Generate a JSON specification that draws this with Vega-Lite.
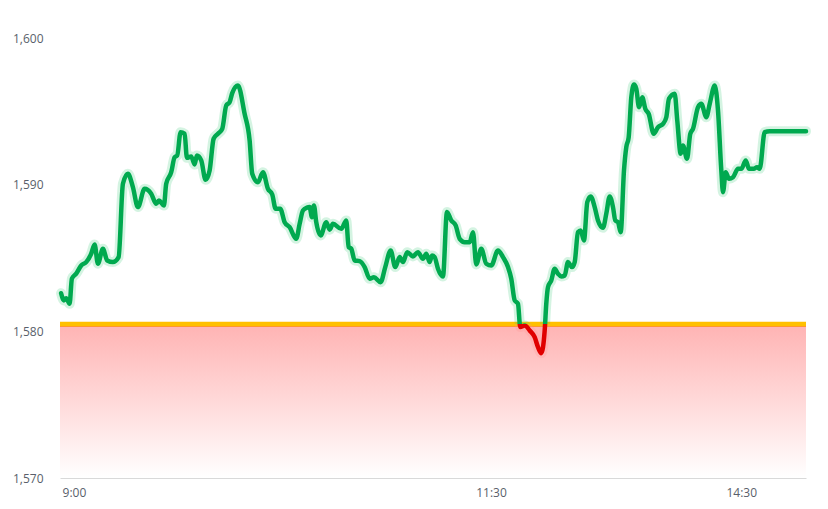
{
  "$schema": "https://vega.github.io/schema/vega-lite/v6.json",
  "width": 746,
  "height": 440,
  "autosize": {"type": "none"},
  "padding": {"left": 60, "top": 38, "right": 22, "bottom": 31},
  "background": "white",
  "config": {
    "view": {"stroke": null},
    "font": "Open Sans",
    "axis": {"labelFont": "Open Sans", "labelFontSize": 12, "labelColor": "#595F6B", "grid": false, "ticks": false, "title": null}
  },
  "datasets": {
    "prices": [
      {"t": -4.6, "price": 1582.60}, {"t": -3.6, "price": 1582.11}, {"t": -2.8, "price": 1582.26}, {"t": -1.55, "price": 1581.88},
      {"t": -0.72, "price": 1583.59}, {"t": 0.83, "price": 1583.93}, {"t": 2.63, "price": 1584.49}, {"t": 4.42, "price": 1584.72},
      {"t": 6.22, "price": 1585.29}, {"t": 7.45, "price": 1585.92}, {"t": 8.63, "price": 1584.61}, {"t": 10.43, "price": 1585.63},
      {"t": 11.98, "price": 1584.83}, {"t": 14.03, "price": 1584.72}, {"t": 16.08, "price": 1585.06}, {"t": 17.63, "price": 1590.06},
      {"t": 19.42, "price": 1590.74}, {"t": 21.22, "price": 1589.83}, {"t": 23.02, "price": 1588.47}, {"t": 25.43, "price": 1589.72},
      {"t": 27.81, "price": 1589.38}, {"t": 29.6, "price": 1588.70}, {"t": 30.58, "price": 1588.92}, {"t": 32.37, "price": 1588.58},
      {"t": 33.2, "price": 1590.06}, {"t": 35.0, "price": 1590.85}, {"t": 36.22, "price": 1591.87}, {"t": 37.16, "price": 1591.99},
      {"t": 38.38, "price": 1593.58}, {"t": 39.82, "price": 1593.47}, {"t": 40.65, "price": 1591.83}, {"t": 42.19, "price": 1591.92},
      {"t": 43.42, "price": 1591.38}, {"t": 44.24, "price": 1591.99}, {"t": 45.79, "price": 1591.65}, {"t": 47.37, "price": 1590.33},
      {"t": 48.81, "price": 1590.97}, {"t": 50.25, "price": 1593.13}, {"t": 51.8, "price": 1593.47}, {"t": 53.35, "price": 1593.81},
      {"t": 54.78, "price": 1595.40}, {"t": 56.0, "price": 1595.62}, {"t": 56.94, "price": 1596.24}, {"t": 59.0, "price": 1596.76},
      {"t": 61.4, "price": 1594.83}, {"t": 63.2, "price": 1593.01}, {"t": 64.14, "price": 1590.74}, {"t": 66.19, "price": 1590.17},
      {"t": 67.99, "price": 1590.85}, {"t": 69.78, "price": 1589.72}, {"t": 71.33, "price": 1589.33}, {"t": 72.55, "price": 1588.36},
      {"t": 74.21, "price": 1588.36}, {"t": 75.79, "price": 1587.44}, {"t": 77.59, "price": 1587.10}, {"t": 79.96, "price": 1586.31},
      {"t": 81.19, "price": 1587.33}, {"t": 82.37, "price": 1588.24}, {"t": 83.81, "price": 1588.43}, {"t": 84.78, "price": 1588.47},
      {"t": 85.61, "price": 1587.78}, {"t": 86.33, "price": 1588.58}, {"t": 87.16, "price": 1587.44}, {"t": 88.74, "price": 1586.54},
      {"t": 90.76, "price": 1587.44}, {"t": 91.98, "price": 1586.93}, {"t": 93.17, "price": 1587.33}, {"t": 96.15, "price": 1586.99},
      {"t": 97.95, "price": 1587.56}, {"t": 98.81, "price": 1585.74}, {"t": 99.75, "price": 1585.63}, {"t": 100.97, "price": 1584.83},
      {"t": 102.77, "price": 1584.79}, {"t": 104.57, "price": 1584.38}, {"t": 106.37, "price": 1583.59}, {"t": 107.91, "price": 1583.69},
      {"t": 110.32, "price": 1583.35}, {"t": 111.98, "price": 1584.38}, {"t": 113.92, "price": 1585.51}, {"t": 115.58, "price": 1584.38},
      {"t": 117.16, "price": 1585.06}, {"t": 118.35, "price": 1584.72}, {"t": 119.89, "price": 1585.40}, {"t": 121.94, "price": 1585.11},
      {"t": 123.74, "price": 1585.40}, {"t": 125.54, "price": 1584.95}, {"t": 126.73, "price": 1585.29}, {"t": 127.95, "price": 1584.72},
      {"t": 128.78, "price": 1585.17}, {"t": 129.75, "price": 1585.06}, {"t": 130.94, "price": 1584.27}, {"t": 132.73, "price": 1583.74},
      {"t": 134.17, "price": 1588.13}, {"t": 135.72, "price": 1587.56}, {"t": 137.3, "price": 1587.22}, {"t": 138.74, "price": 1586.31},
      {"t": 140.54, "price": 1586.08}, {"t": 142.34, "price": 1586.08}, {"t": 143.53, "price": 1586.76}, {"t": 144.71, "price": 1584.56},
      {"t": 146.51, "price": 1585.63}, {"t": 148.31, "price": 1584.61}, {"t": 150.11, "price": 1584.49}, {"t": 152.52, "price": 1585.51},
      {"t": 154.32, "price": 1585.06}, {"t": 156.12, "price": 1584.38}, {"t": 157.3, "price": 1583.59}, {"t": 158.53, "price": 1582.11},
      {"t": 159.71, "price": 1581.88}, {"t": 160.54, "price": 1580.29}, {"t": 162.12, "price": 1580.40}, {"t": 163.92, "price": 1580.06},
      {"t": 165.72, "price": 1579.60}, {"t": 166.91, "price": 1578.92}, {"t": 168.09, "price": 1578.51}, {"t": 169.32, "price": 1580.06},
      {"t": 169.89, "price": 1581.88}, {"t": 170.5, "price": 1583.01}, {"t": 171.69, "price": 1583.47}, {"t": 172.91, "price": 1584.27},
      {"t": 174.1, "price": 1583.93}, {"t": 175.29, "price": 1583.74}, {"t": 176.51, "price": 1583.81}, {"t": 177.7, "price": 1584.72},
      {"t": 179.14, "price": 1584.38}, {"t": 180.11, "price": 1584.72}, {"t": 181.29, "price": 1586.76}, {"t": 182.27, "price": 1586.88},
      {"t": 183.45, "price": 1586.20}, {"t": 184.64, "price": 1588.81}, {"t": 185.86, "price": 1589.20}, {"t": 187.3, "price": 1588.47},
      {"t": 188.49, "price": 1587.56}, {"t": 190.29, "price": 1587.06}, {"t": 191.47, "price": 1588.02}, {"t": 192.7, "price": 1589.20},
      {"t": 193.88, "price": 1588.47}, {"t": 194.71, "price": 1587.56}, {"t": 195.68, "price": 1587.44}, {"t": 196.65, "price": 1586.76},
      {"t": 197.84, "price": 1590.97}, {"t": 198.67, "price": 1592.56}, {"t": 199.53, "price": 1593.24}, {"t": 200.47, "price": 1595.96},
      {"t": 201.44, "price": 1596.83}, {"t": 202.27, "price": 1596.54}, {"t": 203.24, "price": 1595.28}, {"t": 204.42, "price": 1595.96},
      {"t": 205.5, "price": 1595.17}, {"t": 206.73, "price": 1594.83}, {"t": 208.53, "price": 1593.47}, {"t": 210.07, "price": 1593.92},
      {"t": 211.87, "price": 1594.15}, {"t": 213.06, "price": 1594.60}, {"t": 214.03, "price": 1595.86}, {"t": 216.08, "price": 1596.20},
      {"t": 217.0, "price": 1594.38}, {"t": 218.24, "price": 1592.11}, {"t": 219.06, "price": 1592.67}, {"t": 220.5, "price": 1591.77},
      {"t": 221.69, "price": 1593.47}, {"t": 222.66, "price": 1593.81}, {"t": 224.46, "price": 1595.28}, {"t": 225.65, "price": 1595.51},
      {"t": 227.45, "price": 1594.60}, {"t": 228.67, "price": 1595.51}, {"t": 230.47, "price": 1596.76}, {"t": 231.65, "price": 1595.06},
      {"t": 232.84, "price": 1590.97}, {"t": 233.45, "price": 1589.49}, {"t": 234.42, "price": 1590.85}, {"t": 235.61, "price": 1590.40},
      {"t": 237.05, "price": 1590.51}, {"t": 238.85, "price": 1591.08}, {"t": 240.04, "price": 1591.08}, {"t": 241.62, "price": 1591.65},
      {"t": 242.81, "price": 1591.08}, {"t": 244.5, "price": 1591.08}, {"t": 245.68, "price": 1591.19}, {"t": 246.65, "price": 1591.08},
      {"t": 248.45, "price": 1593.58}, {"t": 250.25, "price": 1593.65}, {"t": 263.3, "price": 1593.65}
    ],
    "reference": [{"prevClose": 1580.5}]
  },
  "layer": [
    {
      "data": {"name": "reference"},
      "mark": {"type": "rect", "fill": {"gradient": "linear", "x1": 0, "y1": 0, "x2": 0, "y2": 1, "stops": [{"offset": 0, "color": "#FFB3B3"}, {"offset": 1, "color": "#FFFFFF"}]}},
      "encoding": {
        "y": {"field": "prevClose", "type": "quantitative", "scale": {"domain": [1570, 1600], "nice": false, "zero": false},
              "axis": {"values": [1570, 1580, 1590, 1600], "format": ",", "domain": false, "labelPadding": 17}},
        "y2": {"datum": 1570}
      }
    },
    {
      "data": {"name": "reference"},
      "mark": {"type": "rule", "color": "#FF8A3D", "strokeWidth": 3, "yOffset": 1.5},
      "encoding": {"y": {"field": "prevClose", "type": "quantitative"}}
    },
    {
      "data": {"name": "reference"},
      "mark": {"type": "rule", "color": "#FFC000", "strokeWidth": 4.5},
      "encoding": {"y": {"field": "prevClose", "type": "quantitative"}}
    },
    {
      "data": {"name": "prices"},
      "mark": {"type": "line", "interpolate": "monotone", "strokeWidth": 10, "opacity": 0.22, "strokeCap": "round", "strokeJoin": "round",
               "stroke": {"gradient": "linear", "x1": 0, "y1": 0, "x2": 0, "y2": 1, "stops": [{"offset": 0, "color": "#3CCB7A"}, {"offset": 0.8914, "color": "#3CCB7A"}, {"offset": 0.8914, "color": "#FF9090"}, {"offset": 1, "color": "#FF9090"}]}},
      "encoding": {
        "x": {"field": "t", "type": "quantitative", "scale": {"domain": [-5, 263.3], "nice": false, "zero": false},
              "axis": {"values": [0, 150, 240], "labelExpr": "datum.value == 0 ? '9:00' : datum.value == 150 ? '11:30' : '14:30'", "domainColor": "#D9D9D9", "labelPadding": 9}},
        "y": {"field": "price", "type": "quantitative"}
      }
    },
    {
      "data": {"name": "prices"},
      "mark": {"type": "line", "interpolate": "monotone", "strokeWidth": 4.5, "strokeCap": "round", "strokeJoin": "round",
               "stroke": {"gradient": "linear", "x1": 0, "y1": 0, "x2": 0, "y2": 1, "stops": [{"offset": 0, "color": "#00A94F"}, {"offset": 0.8914, "color": "#00A94F"}, {"offset": 0.8914, "color": "#E00000"}, {"offset": 1, "color": "#E00000"}]}},
      "encoding": {
        "x": {"field": "t", "type": "quantitative"},
        "y": {"field": "price", "type": "quantitative"}
      }
    }
  ]
}
